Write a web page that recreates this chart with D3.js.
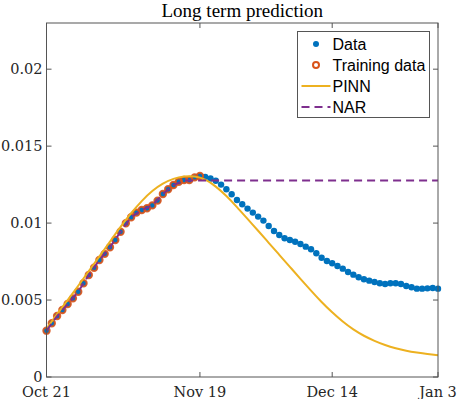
<!DOCTYPE html>
<html>
<head>
<meta charset="utf-8">
<script src="https://cdn.jsdelivr.net/npm/d3@7"></script>
<style>
	body { margin: 0; background: #fff; }
	svg { display: block; }
	.tick-label { font-family: 'DejaVu Serif', 'Liberation Serif', serif; font-size: 14.5px; fill: #262626; }
	.title { font-family: 'Liberation Serif', 'DejaVu Serif', serif; font-size: 19px; fill: #000; }
	.legend-text { font-family: 'Liberation Sans', Arial, sans-serif; font-size: 16px; fill: #000; }
</style>
</head>
<body>
<div id="chart"></div>
<script>
// Observed daily values, Oct 21 -> Jan 3 (75 days)
var dataValues = [
	0.00301, 0.00349, 0.00396, 0.00435, 0.00474, 0.00511, 0.00554, 0.00609, 0.00663, 0.00710,
	0.00760, 0.00800, 0.00843, 0.00890, 0.00944, 0.00999, 0.01038, 0.01068, 0.01085, 0.01096,
	0.01115, 0.01146, 0.01189, 0.01220, 0.01247, 0.01269, 0.01280, 0.01280, 0.01297, 0.01306,
	0.01300, 0.01290, 0.01275, 0.01250, 0.01220, 0.01187, 0.01150, 0.01122, 0.01094, 0.01068,
	0.01042, 0.01016, 0.00981, 0.00949, 0.00923, 0.00901, 0.00890, 0.00879, 0.00864, 0.00847,
	0.00830, 0.00804, 0.00775, 0.00754, 0.00739, 0.00721, 0.00704, 0.00682, 0.00665, 0.00648,
	0.00635, 0.00626, 0.00617, 0.00609, 0.00604, 0.00609, 0.00609, 0.00604, 0.00591, 0.00583,
	0.00574, 0.00574, 0.00576, 0.00578, 0.00574
];
// first 30 days were used for training
var trainingDays = 30;

// PINN prediction, sampled every 2 days
var pinnDays = [0, 2, 4, 6, 8, 10, 12, 14, 16, 18, 20, 22, 24, 26, 28, 30, 32, 34, 36, 38,
	40, 42, 44, 46, 48, 50, 52, 54, 56, 58, 60, 62, 64, 66, 68, 70, 72, 74];
var pinnValues = [0.00315, 0.00408, 0.00500, 0.00593, 0.00688, 0.00784, 0.00880, 0.00975, 0.01064, 0.01143,
	0.01208, 0.01256, 0.01287, 0.01302, 0.01302, 0.01282, 0.01237, 0.01176, 0.01104, 0.01027,
	0.00950, 0.00872, 0.00794, 0.00716, 0.00638, 0.00561, 0.00487, 0.00420, 0.00360, 0.00309,
	0.00268, 0.00235, 0.00208, 0.00187, 0.00171, 0.00159, 0.00149, 0.00141];

// NAR prediction: follows the training data, then stays flat
var narDays = [0, 2, 4, 6, 8, 10, 12, 14, 16, 18, 20, 22, 24, 26, 28, 29, 74];
var narValues = [0.00301, 0.00396, 0.00474, 0.00554, 0.00663, 0.00760, 0.00843, 0.00944, 0.01038, 0.01085,
	0.01115, 0.01189, 0.01247, 0.01276, 0.01276, 0.01276, 0.01276];

var xTickDays = [0, 29, 54, 74];
var xTickLabels = ['Oct 21', 'Nov 19', 'Dec 14', 'Jan 3'];
var yTicks = [0, 0.005, 0.01, 0.015, 0.02];
var yTickLabels = ['0', '0.005', '0.01', '0.015', '0.02'];

var legendLabels = ['Data', 'Training data', 'PINN', 'NAR'];

var colors = { data: '#0072BD', train: '#D95319', pinn: '#EDB120', nar: '#7E2F8E' };

var width = 460, height = 399;
var margin = { left: 46.5, right: 22, top: 23, bottom: 22 };

var svg = d3.select('#chart').append('svg')
	.attr('width', width)
	.attr('height', height);

var x = d3.scaleLinear().domain([0, 74]).range([margin.left, width - margin.right]);
var y = d3.scaleLinear().domain([0, 0.023]).range([height - margin.bottom, margin.top]);

var plot = svg.append('g');

// Data points
plot.selectAll('circle.data')
	.data(dataValues)
	.enter()
	.append('circle')
	.attr('class', 'data')
	.attr('cx', function(d, i) { return x(i); })
	.attr('cy', function(d) { return y(d); })
	.attr('r', 3.2)
	.attr('fill', colors.data);

// Training data circles
plot.selectAll('circle.train')
	.data(dataValues.slice(0, trainingDays))
	.enter()
	.append('circle')
	.attr('class', 'train')
	.attr('cx', function(d, i) { return x(i); })
	.attr('cy', function(d) { return y(d); })
	.attr('r', 3.2)
	.attr('fill', 'none')
	.attr('stroke', colors.train)
	.attr('stroke-width', 2)
	.attr('stroke-opacity', 0.9);

var line = d3.line()
	.x(function(d) { return x(d[0]); })
	.y(function(d) { return y(d[1]); });

plot.append('path')
	.datum(d3.zip(pinnDays, pinnValues))
	.attr('d', line.curve(d3.curveNatural))
	.attr('fill', 'none')
	.attr('stroke', colors.pinn)
	.attr('stroke-width', 2);

plot.append('path')
	.datum(d3.zip(narDays, narValues))
	.attr('d', line.curve(d3.curveLinear))
	.attr('fill', 'none')
	.attr('stroke', colors.nar)
	.attr('stroke-width', 2)
	.attr('stroke-dasharray', '8,5');

// Axes box
var axisColor = '#555';
var x0 = x.range()[0], x1 = x.range()[1], y0 = y.range()[0], y1 = y.range()[1];
svg.append('rect')
	.attr('x', x0).attr('y', y1)
	.attr('width', x1 - x0).attr('height', y0 - y1)
	.attr('fill', 'none')
	.attr('stroke', axisColor)
	.attr('stroke-width', 1);

var tickLen = 5;
// x ticks (inside, bottom and top)
xTickDays.forEach(function(d, i) {
	var px = x(d);
	svg.append('line').attr('x1', px).attr('x2', px).attr('y1', y0).attr('y2', y0 - tickLen).attr('stroke', axisColor);
	svg.append('line').attr('x1', px).attr('x2', px).attr('y1', y1).attr('y2', y1 + tickLen).attr('stroke', axisColor);
	svg.append('text')
		.attr('class', 'tick-label')
		.attr('x', px)
		.attr('y', y0 + 20)
		.attr('text-anchor', 'middle')
		.text(xTickLabels[i]);
});

// y ticks (inside, left and right)
yTicks.forEach(function(d, i) {
	var py = y(d);
	svg.append('line').attr('x1', x0).attr('x2', x0 + tickLen).attr('y1', py).attr('y2', py).attr('stroke', axisColor);
	svg.append('line').attr('x1', x1).attr('x2', x1 - tickLen).attr('y1', py).attr('y2', py).attr('stroke', axisColor);
	svg.append('text')
		.attr('class', 'tick-label')
		.attr('x', x0 - 4)
		.attr('y', py + 4.5)
		.attr('text-anchor', 'end')
		.text(yTickLabels[i]);
});

svg.append('text')
	.attr('class', 'title')
	.attr('x', (x0 + x1) / 2)
	.attr('y', 17)
	.attr('text-anchor', 'middle')
	.text('Long term prediction');

// Legend
var legend = svg.append('g').attr('transform', 'translate(297.5, 31.5)');
legend.append('rect')
	.attr('width', 132)
	.attr('height', 86)
	.attr('fill', '#fff')
	.attr('stroke', axisColor)
	.attr('stroke-width', 1);

var rowY = function(i) { return 12.5 + i * 21; };
legend.append('circle').attr('cx', 18.5).attr('cy', rowY(0)).attr('r', 3).attr('fill', colors.data);
legend.append('circle').attr('cx', 18.5).attr('cy', rowY(1)).attr('r', 3).attr('fill', 'none')
	.attr('stroke', colors.train).attr('stroke-width', 2);
legend.append('line').attr('x1', 4).attr('x2', 33).attr('y1', rowY(2)).attr('y2', rowY(2))
	.attr('stroke', colors.pinn).attr('stroke-width', 2);
legend.append('line').attr('x1', 4).attr('x2', 33).attr('y1', rowY(3)).attr('y2', rowY(3))
	.attr('stroke', colors.nar).attr('stroke-width', 2).attr('stroke-dasharray', '8,5');

legend.selectAll('text')
	.data(legendLabels)
	.enter()
	.append('text')
	.attr('class', 'legend-text')
	.attr('x', 35)
	.attr('y', function(d, i) { return rowY(i) + 5.5; })
	.text(function(d) { return d; });
</script>
</body>
</html>
